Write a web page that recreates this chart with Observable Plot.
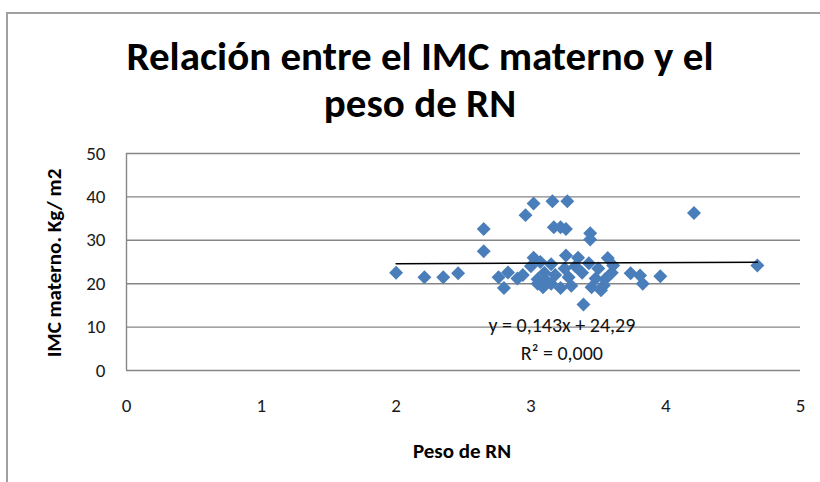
<!DOCTYPE html>
<html><head><meta charset="utf-8">
<script src="https://cdn.jsdelivr.net/npm/d3@7"></script>
<script src="https://cdn.jsdelivr.net/npm/@observablehq/plot@0.6"></script>
<style>
body{margin:0;background:#fff;}
#wrap{position:relative;width:820px;height:482px;overflow:hidden;font-family:Carlito,"Liberation Sans Narrow","Liberation Sans",sans-serif;}
#frame{position:absolute;left:6px;top:12px;width:830px;height:480px;border-left:2px solid #a0a0a0;border-top:2px solid #a0a0a0;}
.t{position:absolute;left:0;width:840px;text-align:center;font-weight:bold;font-size:41px;line-height:41px;color:#000;}
#ylab{position:absolute;left:54px;top:263px;transform:translate(-50%,-50%) rotate(-90deg);font-weight:bold;font-size:21px;white-space:nowrap;}
#xlab{position:absolute;left:462px;top:451px;transform:translate(-50%,-50%);font-weight:bold;font-size:21px;white-space:nowrap;}
#plot{position:absolute;left:0;top:0;}
</style></head>
<body>
<div id="wrap">
<div id="frame"></div>
<div id="plot"></div>
<div class="t" style="top:36px">Relación entre el IMC materno y el</div>
<div class="t" style="top:83px">peso de RN</div>
<div id="ylab">IMC materno. Kg/ m2</div>
<div id="xlab">Peso de RN</div>
</div>
<script>
const pesoRN = [2.00,2.21,2.35,2.46,2.65,2.65,2.76,2.80,2.83,2.90,2.96,3.02,3.16,3.27,3.17,3.22,3.26,3.44,3.44,3.26,3.02,3.39,4.21,4.68,3.57,3.61,3.74,3.81,3.83,3.96,3.54,3.52,2.94,3.00,3.05,3.07,3.09,3.10,3.12,3.15,3.18,3.22,3.25,3.28,3.30,3.33,3.35,3.38,3.43,3.45,3.48,3.50,3.55,3.60,3.05,3.15];
const imc = [22.5,21.5,21.5,22.4,32.6,27.5,21.5,19.0,22.6,21.2,35.8,38.5,39.0,39.0,33.0,33.0,32.6,31.6,30.2,26.5,26.0,15.2,36.3,24.2,25.9,24.2,22.4,21.9,20.0,21.7,19.6,18.5,22.0,24.0,21.0,25.0,19.2,22.5,20.5,24.5,22.0,19.0,23.5,21.5,19.5,24.0,26.0,22.5,24.7,19.2,21.2,23.5,21.0,22.5,20.0,20.0];
const xTicks = [0,1,2,3,4,5];
const yTicks = [0,10,20,30,40,50];
const slope = 0.143, intercept = 24.29;
const eqLines = ["y = 0,143x + 24,29", "R² = 0,000"];

const pts = pesoRN.map((x,i)=>({x, y: imc[i]}));
const xmin = d3.min(pesoRN), xmax = d3.max(pesoRN);
const trend = [xmin, xmax].map(x=>({x, y: slope*x+intercept}));
const eq = [{x:3.23, y:10.4, t:eqLines[0]}, {x:3.23, y:3.9, t:eqLines[1]}];

const chart = Plot.plot({
  width: 820, height: 482,
  marginLeft: 126, marginRight: 20, marginTop: 153, marginBottom: 112,
  style: {fontFamily: "Carlito, 'Liberation Sans', sans-serif", fontSize: "19px", color: "#1a1a1a", background: "transparent"},
  x: {domain: [0,5], ticks: xTicks, tickSize: 0, tickPadding: 28, label: null, tickFormat: d=>String(d)},
  y: {domain: [0,50], ticks: yTicks, tickSize: 0, tickPadding: 21, label: null, tickFormat: d=>String(d)},
  marks: [
    Plot.gridY(yTicks.filter(d=>d>0), {stroke: "#868686", strokeOpacity: 1, strokeWidth: 1.4}),
    Plot.ruleX([0], {stroke: "#868686", strokeWidth: 1.4}),
    Plot.ruleY([0], {stroke: "#868686", strokeWidth: 1.4}),
    Plot.dot(pts, {x:"x", y:"y", symbol:"diamond2", r:6.3, fill:"#4a7ebb", stroke:"none"}),
    Plot.line(trend, {x:"x", y:"y", stroke:"#000", strokeWidth:1.5}),
    Plot.text(eq, {x:"x", y:"y", text:"t", fontSize:20, fill:"#111"})
  ]
});
document.getElementById("plot").appendChild(chart);
</script>
</body></html>
